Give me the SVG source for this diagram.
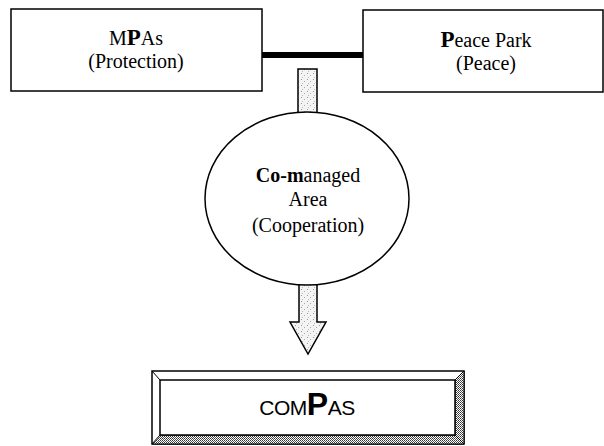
<svg xmlns="http://www.w3.org/2000/svg" width="604" height="446" viewBox="0 0 604 446">
<defs>
<pattern id="stipple" width="6" height="6" patternUnits="userSpaceOnUse">
<rect width="6" height="6" fill="#f4f4f4"/>
<rect x="1" y="1" width="1" height="1" fill="#999"/>
<rect x="4" y="3" width="1" height="1" fill="#aaa"/>
<rect x="2" y="5" width="1" height="1" fill="#bbb"/>
</pattern>
<pattern id="checker" width="2" height="2" patternUnits="userSpaceOnUse">
<rect width="2" height="2" fill="#fff"/>
<rect width="1" height="1" fill="#333"/>
<rect x="1" y="1" width="1" height="1" fill="#555"/>
</pattern>
<style>
.box{fill:#fff;stroke:#000;stroke-width:1.5}
.t{font-family:"Liberation Serif","Times New Roman",serif;font-size:20px;fill:#000;text-anchor:middle}
.big{font-weight:bold;font-size:23px}
.b{font-weight:bold}
.arrow{fill:url(#stipple);stroke:#000;stroke-width:1.5}
.sc{font-family:"Liberation Sans",Arial,sans-serif;fill:#000;text-anchor:middle;font-size:21px}
</style>
</defs>
<g id="connectors">
<line x1="262" y1="55" x2="363" y2="55" stroke="#000" stroke-width="6"/>
<rect class="arrow" x="298" y="69" width="19" height="45"/>
<path class="arrow" d="M299,283 L317,283 L317,322 L326,322 L308,354 L290,322 L299,322 Z"/>
</g>
<g id="mpas">
<rect class="box" x="11" y="9" width="251" height="82"/>
<text class="t" x="136" y="45">M<tspan class="big">P</tspan>As</text>
<text class="t" x="136" y="68">(Protection)</text>
</g>
<g id="peacepark">
<rect class="box" x="363" y="10" width="240" height="82"/>
<text class="t" x="486" y="47"><tspan class="big">P</tspan>eace Park</text>
<text class="t" x="486" y="70">(Peace)</text>
</g>
<g id="comanaged">
<ellipse cx="307" cy="198.5" rx="102" ry="86.5" fill="#fff" stroke="#000" stroke-width="1.5"/>
<text class="t" x="308" y="182"><tspan class="b">Co-m</tspan>anaged</text>
<text class="t" x="308" y="206">Area</text>
<text class="t" x="308" y="232">(Cooperation)</text>
</g>
<g id="compas">
<rect x="152" y="371" width="312" height="73" fill="#fff" stroke="#000" stroke-width="1.5"/>
<path d="M455,380 L464,371 L464,444 L455,435 Z" fill="url(#checker)" stroke="#000" stroke-width="1"/>
<path d="M160,435 L455,435 L464,444 L152,444 Z" fill="url(#checker)" stroke="#000" stroke-width="1"/>
<line x1="152" y1="371" x2="160" y2="380" stroke="#000" stroke-width="1"/>
<rect x="160" y="380" width="295" height="55" fill="#fff" stroke="#000" stroke-width="1.5"/>
<text class="sc" x="307" y="415" letter-spacing="-0.5">COM<tspan font-size="32" font-weight="bold">P</tspan>AS</text>
</g>
</svg>
